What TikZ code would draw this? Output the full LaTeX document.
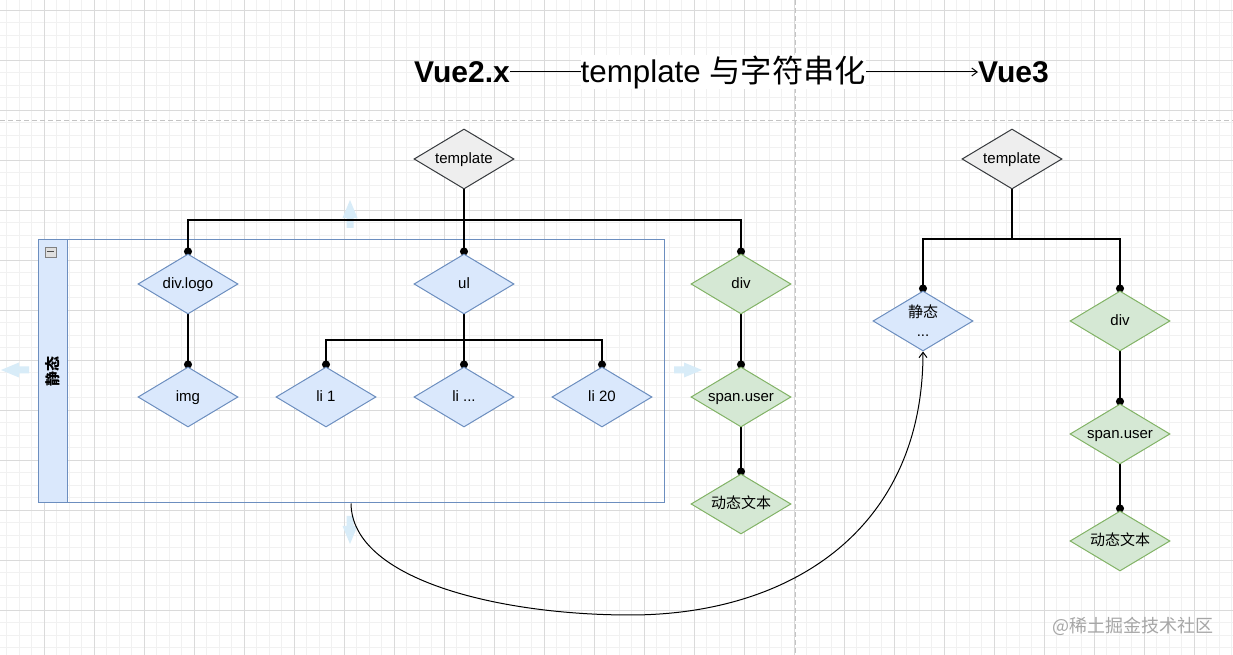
\documentclass[tikz,border=0pt]{standalone}
\usepackage{fontspec}
\setmainfont{Liberation Sans}
\newfontfamily\cjk{Noto Sans CJK SC}
\usetikzlibrary{arrows.meta,shapes.geometric}
\pgfdeclarelayer{bg}
\pgfsetlayers{bg,main}
\definecolor{bfill}{HTML}{DAE8FC}
\definecolor{bdraw}{HTML}{6C8EBF}
\definecolor{gfill}{HTML}{D5E8D4}
\definecolor{gdraw}{HTML}{82B366}
\definecolor{tfill}{HTML}{EEEEEE}
\definecolor{tdraw}{HTML}{36393D}
\definecolor{gridminor}{HTML}{F1F1F1}
\definecolor{gridmajor}{HTML}{DADADA}
\definecolor{pagebrk}{HTML}{C4C4C4}
\definecolor{hintc}{HTML}{D8ECF8}
\definecolor{wmark}{HTML}{A6A6A6}
\tikzset{
  dia/.style={diamond, shape aspect=1.667, inner sep=0pt, minimum width=75pt, minimum height=45pt,
    line width=0.75pt, text height=8.6pt, text depth=2pt, font=\fontsize{11.25}{14.25}\selectfont},
  bnode/.style={dia, fill=bfill, draw=bdraw},
  gnode/.style={dia, fill=gfill, draw=gdraw},
  tnode/.style={dia, fill=tfill, draw=tdraw},
  conn/.style={line width=0.95pt, -{Circle[length=6pt]}, shorten >=-1.5pt},
  curvecon/.style={line width=0.75pt, -{Straight Barb[length=4pt,width=6pt]}},
  titlef/.style={inner sep=0pt, font=\fontsize{22.5}{27}\selectfont\bfseries},
  hintarrow/.pic={\fill[hintc] (-14,-3.5) -- (-4,-3.5) -- (-4,-7.5) -- (14,0) -- (-4,7.5) -- (-4,3.5) -- (-14,3.5) -- cycle;}
}
\begin{document}
\begin{tikzpicture}[x=0.75pt,y=-0.75pt]
\useasboundingbox (0,0) rectangle (1233,655);
\begin{pgfonlayer}{bg}
  \fill[white] (0,0) rectangle (1233,655);
  \foreach \i in {0,...,99} \draw[gridminor, line width=0.6pt] ({6.5+12.5*\i},0) -- ({6.5+12.5*\i},655);
  \foreach \i in {0,...,53} \draw[gridminor, line width=0.6pt] (0,{-2.5+12.5*\i}) -- (1233,{-2.5+12.5*\i});
  \foreach \i in {0,...,25} \draw[gridmajor, line width=0.6pt] ({-6+50*\i},0) -- ({-6+50*\i},655);
  \foreach \i in {0,...,13} \draw[gridmajor, line width=0.6pt] (0,{10+50*\i}) -- (1233,{10+50*\i});
  \draw[pagebrk, line width=0.75pt, dash pattern=on 3.5pt off 2.5pt] (0,121) -- (1233,121);
  \draw[pagebrk, line width=0.75pt, dash pattern=on 3.5pt off 2.5pt] (795,0) -- (795,655);
  % faint hover arrows
  \pic[rotate=90] at (350,214) {hintarrow};
  \pic[rotate=180] at (15,370) {hintarrow};
  \pic at (688,370) {hintarrow};
  \pic[rotate=-90] at (350,530) {hintarrow};
  % swimlane container
  \node[draw=bdraw, line width=0.75pt, minimum width=469.5pt, minimum height=197.25pt, inner sep=0pt] (lane) at (351,371.5) {};
  \node[draw=bdraw, fill=bfill, line width=0.75pt, minimum width=21.75pt, minimum height=197.25pt, inner sep=0pt, anchor=north west] (lanehead) at (lane.north west) {};
\end{pgfonlayer}
\node[rotate=90, inner sep=0pt, font=\cjk\bfseries\fontsize{11.25}{13}\selectfont] (lanelbl) at (lanehead.center) {静态};
\node[draw=gray, fill=gray!25, line width=0.5pt, minimum width=8pt, minimum height=7.5pt, inner sep=0pt] (col) at (50.5,252) {};
\draw[black!70, line width=0.75pt] ([xshift=1.6pt]col.west) -- ([xshift=-1.6pt]col.east);

% title
\node[titlef] (v2) at (462,72) {Vue2.x};
\node[titlef] (v3) at (1013.5,72) {Vue3};
\draw[line width=0.75pt, -{Straight Barb[length=4pt,width=6pt]}] (v2.east) -- node[pos=0.456, fill=white, inner sep=0pt, font=\fontsize{23.5}{28}\selectfont] (lbl) {template {\cjk 与字符串化}} (v3.west);

% left tree
\node[tnode] (t1) at (464,159) {template};
\node[bnode] (dl) at (188,284) {div.logo};
\node[bnode] (img) at (188,397) {img};
\node[bnode] (ul) at (464,284) {ul};
\node[bnode] (li1) at (326,397) {li 1};
\node[bnode] (lim) at (464,397) {li ...};
\node[bnode] (li20) at (602,397) {li 20};
\node[gnode] (dv) at (741,284) {div};
\node[gnode] (su) at (741,397) {span.user};
\node[gnode] (dt) at (741,504) {\cjk 动态文本};

% right tree
\node[tnode] (t2) at (1012,159) {template};
\node[bnode, align=center, text height={}, text depth={}] (st) at (923,321) {{\cjk 静态}\\...};
\node[gnode] (dv2) at (1120,321) {div};
\node[gnode] (su2) at (1120,434) {span.user};
\node[gnode] (dt2) at (1120,541) {\cjk 动态文本};

\coordinate (bus1) at (0,220);
\coordinate (bus2) at (0,340);
\coordinate (bus3) at (0,239);

\begin{pgfonlayer}{bg}
  \draw[conn] (t1.south) -- (t1.south |- bus1) -| (dl.north);
  \draw[conn] (t1.south) -- (ul.north);
  \draw[conn] (t1.south) -- (t1.south |- bus1) -| (dv.north);
  \draw[conn] (dl.south) -- (img.north);
  \draw[conn] (ul.south) -- (ul.south |- bus2) -| (li1.north);
  \draw[conn] (ul.south) -- (lim.north);
  \draw[conn] (ul.south) -- (ul.south |- bus2) -| (li20.north);
  \draw[conn] (dv.south) -- (su.north);
  \draw[conn] (su.south) -- (dt.north);
  \draw[conn] (t2.south) -- (t2.south |- bus3) -| (st.north);
  \draw[conn] (t2.south) -- (t2.south |- bus3) -| (dv2.north);
  \draw[conn] (dv2.south) -- (su2.north);
  \draw[conn] (su2.south) -- (dt2.north);
\end{pgfonlayer}

\draw[curvecon] (lane.south) .. controls (352,580) and (500,615) .. (630,615) .. controls (790,615) and (923,530) .. (st.south);

\node[text=wmark, inner sep=0pt, font=\cjk\fontsize{13.5}{16}\selectfont] (wm) at (1133,626) {@稀土掘金技术社区};
\end{tikzpicture}
\end{document}
